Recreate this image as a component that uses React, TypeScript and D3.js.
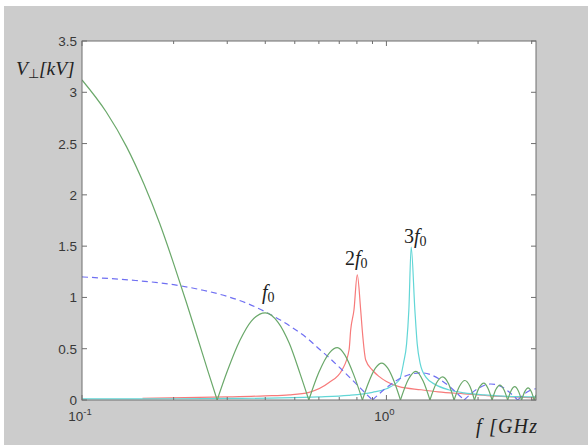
import React from 'react';
import * as d3 from 'd3';

const W = 588;
const H = 445;

// Frequency axis (GHz) and voltage axis (kV)
const xDomain = [0.1, 3.1];
const yDomain = [0, 3.5];
const yTicks = [0, 0.5, 1, 1.5, 2, 2.5, 3, 3.5];
const yTickLabels = ['0', '0.5', '1', '1.5', '2', '2.5', '3', '3.5'];
const xMajorTicks = [0.1, 1];
const xMajorExp = ['-1', '0'];
const xMinorTicks = [0.2, 0.3, 0.4, 0.5, 0.6, 0.7, 0.8, 0.9, 2, 3];

// green |sinc|-like response
const greenF = [
  0.1, 0.12, 0.14, 0.16, 0.18, 0.2, 0.22, 0.24, 0.26, 0.278,
  0.3, 0.33, 0.36, 0.4, 0.44, 0.48, 0.52, 0.556,
  0.6, 0.65, 0.69, 0.73, 0.78, 0.834,
  0.87, 0.92, 0.965, 1.01, 1.06, 1.112,
  1.18, 1.249, 1.32, 1.39,
  1.46, 1.53, 1.6, 1.668,
  1.74, 1.81, 1.88, 1.946,
  2.015, 2.09, 2.155, 2.224,
  2.29, 2.36, 2.43, 2.502,
  2.57, 2.64, 2.71, 2.78,
  2.85, 2.92, 2.99, 3.058,
  3.1,
];
const greenV = [
  3.12, 2.81, 2.47, 2.1, 1.72, 1.33, 0.955, 0.6, 0.27, 0,
  0.28, 0.58, 0.77, 0.85, 0.76, 0.55, 0.26, 0,
  0.27, 0.46, 0.51, 0.44, 0.25, 0,
  0.156, 0.31, 0.36, 0.31, 0.18, 0,
  0.2, 0.28, 0.186, 0,
  0.165, 0.226, 0.158, 0,
  0.137, 0.19, 0.133, 0,
  0.118, 0.165, 0.115, 0,
  0.104, 0.146, 0.102, 0,
  0.093, 0.13, 0.091, 0,
  0.084, 0.118, 0.083, 0,
  0.05,
];

// blue dashed envelope
const blueF = [
  0.1, 0.15, 0.2, 0.25, 0.3, 0.35, 0.4, 0.45, 0.5, 0.55, 0.6, 0.65, 0.7, 0.75, 0.8, 0.85, 0.9,
  0.95, 1.0, 1.1, 1.2, 1.3, 1.4, 1.5, 1.6, 1.7, 1.8,
  1.9, 2.0, 2.1, 2.2, 2.3, 2.4, 2.5, 2.6, 2.7,
  2.8, 2.9, 3.0, 3.1,
];
const blueV = [
  1.2, 1.165, 1.124, 1.07, 1.01, 0.94, 0.86, 0.777, 0.69, 0.6, 0.5, 0.41, 0.32, 0.233, 0.15, 0.071, 0,
  0.064, 0.12, 0.204, 0.25, 0.265, 0.246, 0.2, 0.14, 0.07, 0,
  0.063, 0.112, 0.144, 0.156, 0.15, 0.126, 0.09, 0.046, 0,
  0.043, 0.077, 0.1, 0.11,
];

// red resonance at 2 f0
const redF = [
  0.158, 0.3, 0.4, 0.48, 0.557, 0.648, 0.714, 0.754, 0.763, 0.7825, 0.802,
  0.823, 0.833, 0.855, 0.9, 0.945, 1.0, 1.1, 1.3, 1.48, 1.8, 2.2, 2.6, 3.1,
];
const redV = [
  0.017, 0.03, 0.04, 0.05, 0.075, 0.17, 0.29, 0.49, 0.68, 0.88, 1.22,
  0.88, 0.68, 0.39, 0.29, 0.23, 0.18, 0.13, 0.1, 0.08, 0.06, 0.04, 0.03, 0.02,
];

// cyan resonance at 3 f0
const cyanF = [
  0.1, 0.2, 0.3, 0.45, 0.6, 0.75, 0.9, 1.0, 1.105, 1.138, 1.165, 1.185, 1.206,
  1.24, 1.262, 1.29, 1.35, 1.45, 1.6, 1.8, 2.1, 2.5, 3.1,
];
const cyanV = [
  0.01, 0.012, 0.015, 0.02, 0.03, 0.045, 0.075, 0.11, 0.2, 0.36, 0.55, 0.88, 1.49,
  0.88, 0.55, 0.36, 0.22, 0.15, 0.1, 0.07, 0.05, 0.035, 0.03,
];

type Pt = [number, number];

function zip(fs: number[], vs: number[]): Pt[] {
  return fs.map((f, i) => [f, vs[i]] as Pt);
}

// split at zero crossings so each arch keeps a cusp
function splitAtZeros(pts: Pt[]): Pt[][] {
  const segs: Pt[][] = [];
  let cur: Pt[] = [];
  pts.forEach((p, i) => {
    cur.push(p);
    if (p[1] === 0 && i > 0 && i < pts.length - 1) {
      segs.push(cur);
      cur = [p];
    }
  });
  if (cur.length > 1) segs.push(cur);
  return segs;
}

export default function App() {
  const left = 82;
  const right = 536;
  const top = 41;
  const bottom = 400;
  const x = d3.scaleLog().domain(xDomain).range([left, right]);
  const y = d3.scaleLinear().domain(yDomain).range([bottom, top]);

  const line = d3
    .line<Pt>()
    .x((d) => x(d[0]))
    .y((d) => y(d[1]))
    .curve(d3.curveMonotoneX);

  const greenSegs = splitAtZeros(zip(greenF, greenV));
  const blueSegs = splitAtZeros(zip(blueF, blueV));
  const redPts = zip(redF, redV);
  const cyanPts = zip(cyanF, cyanV);

  const axisColor = '#6e6e6e';
  const labelColor = '#383838';
  const mathFont = '"Liberation Serif", "Times New Roman", serif';
  const tickFont = '"Liberation Sans", Arial, sans-serif';

  return (
    <svg
      width={W}
      height={H}
      style={{ position: 'absolute', left: 0, top: 0, display: 'block' }}
      xmlns="http://www.w3.org/2000/svg"
    >
      <defs>
        <clipPath id="plotClip">
          <rect x={left} y={top} width={right - left} height={bottom - top} />
        </clipPath>
        <clipPath id="xlabClip">
          <rect x={0} y={0} width={537} height={H} />
        </clipPath>
      </defs>
      <rect x={0} y={0} width={W} height={H} fill="#ffffff" />
      <rect x={4} y={6} width={W - 4} height={H - 6} fill="#cccccc" />
      <rect x={left} y={top} width={right - left} height={bottom - top} fill="#ffffff" />

      <g clipPath="url(#plotClip)" fill="none" strokeWidth={1.2}>
        <path d={line(redPts) || ''} stroke="#f77a7a" />
        <path d={line(cyanPts) || ''} stroke="#62d6d6" />
        {blueSegs.map((s, i) => (
          <path key={'b' + i} d={line(s) || ''} stroke="#6f6ff2" strokeDasharray="6,4" />
        ))}
        {greenSegs.map((s, i) => (
          <path key={'g' + i} d={line(s) || ''} stroke="#6aa86a" />
        ))}
      </g>

      {/* frame */}
      <rect
        x={left}
        y={top}
        width={right - left}
        height={bottom - top}
        fill="none"
        stroke={axisColor}
        strokeWidth={1}
      />

      {/* y ticks */}
      {yTicks.map((t, i) => (
        <g key={'yt' + i}>
          <line x1={left} x2={left + 5} y1={y(t)} y2={y(t)} stroke={axisColor} />
          <line x1={right} x2={right - 5} y1={y(t)} y2={y(t)} stroke={axisColor} />
          <text
            x={left - 5}
            y={y(t) + 5}
            textAnchor="end"
            fontSize={13.5}
            fontFamily={tickFont}
            fill={labelColor}
          >
            {yTickLabels[i]}
          </text>
        </g>
      ))}

      {/* x ticks */}
      {xMinorTicks.map((t, i) => (
        <g key={'xm' + i}>
          <line x1={x(t)} x2={x(t)} y1={bottom} y2={bottom - 3} stroke={axisColor} />
          <line x1={x(t)} x2={x(t)} y1={top} y2={top + 3} stroke={axisColor} />
        </g>
      ))}
      {xMajorTicks.map((t, i) => (
        <g key={'xM' + i}>
          <line x1={x(t)} x2={x(t)} y1={bottom} y2={bottom - 5} stroke={axisColor} />
          <line x1={x(t)} x2={x(t)} y1={top} y2={top + 5} stroke={axisColor} />
          <text
            x={x(t) - 2}
            y={421}
            textAnchor="middle"
            fontSize={13.5}
            fontFamily={tickFont}
            fill={labelColor}
          >
            10
            <tspan dy={-6} fontSize={9.5}>
              {xMajorExp[i]}
            </tspan>
          </text>
        </g>
      ))}

      {/* axis labels */}
      <text x={16} y={75} fontFamily={mathFont} fontStyle="italic" fontSize={19.5} fill="#222">
        V
        <tspan dy={3} fontSize={13} fontStyle="normal">
          ⊥
        </tspan>
        <tspan dy={-3}>[kV]</tspan>
      </text>
      <g clipPath="url(#xlabClip)">
        <text
          x={476}
          y={433}
          fontFamily={mathFont}
          fontStyle="italic"
          fontSize={20}
          letterSpacing={1.2}
          fill="#222"
        >
          f [GHz]
        </text>
      </g>

      {/* harmonic labels */}
      <text x={262} y={299} fontFamily={mathFont} fontSize={20} fill="#222">
        <tspan fontStyle="italic">f</tspan>
        <tspan dy={3} fontSize={14}>0</tspan>
      </text>
      <text x={345} y={265} fontFamily={mathFont} fontSize={20} fill="#222">
        2<tspan fontStyle="italic">f</tspan>
        <tspan dy={3} fontSize={14}>0</tspan>
      </text>
      <text x={404} y={243} fontFamily={mathFont} fontSize={20} fill="#222">
        3<tspan fontStyle="italic">f</tspan>
        <tspan dy={3} fontSize={14}>0</tspan>
      </text>
    </svg>
  );
}
